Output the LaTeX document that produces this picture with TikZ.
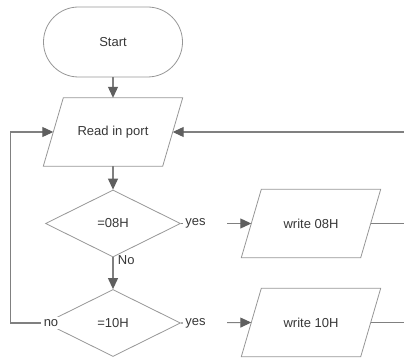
\documentclass[tikz,border=0pt]{standalone}
\usepackage{fontspec}
\setmainfont{Liberation Sans}
\usepackage{tikz}
\usetikzlibrary{shapes.geometric,arrows.meta}
\definecolor{linegray}{RGB}{128,128,128}
\definecolor{boxgray}{RGB}{150,150,150}
\definecolor{textgray}{RGB}{55,55,55}

\begin{document}
\begin{tikzpicture}[x=1pt, y=-1pt,
    every node/.style={text=textgray, font=\fontsize{13}{15}\selectfont},
    border/.style={draw=boxgray, line width=0.8pt},
    termbox/.style={border, rounded corners=35pt,
        minimum width=139pt, minimum height=70pt, inner sep=0pt},
    iobox/.style={minimum width=119pt, minimum height=68pt, inner sep=0pt,
        append after command={\pgfextra{\draw[border]
            ([xshift=10pt]\tikzlastnode.north west) -- ([xshift=10pt]\tikzlastnode.north east)
            -- ([xshift=-10pt]\tikzlastnode.south east) -- ([xshift=-10pt]\tikzlastnode.south west)
            -- cycle;}}},
    testbox/.style={border, diamond,
        minimum width=135pt, minimum height=67pt, inner sep=0pt},
    wire/.style={draw=linegray, line width=1.1pt},
    flow/.style={wire, -{Triangle[length=11pt, width=10pt, color=textgray!80]}},
    branchlbl/.style={fill=white, inner sep=0pt}
]
    \useasboundingbox (0,0) rectangle (404,358);

    % Start box
    \node[termbox] (start) at (113,42) {Start};

    % Read box
    \node[iobox] (read) at (113,132) {Read in port};

    % Test boxes
    \node[testbox] (test08) at (113,223.5) {=08H};
    \node[testbox] (test10) at (113,323) {=10H};

    % Write boxes
    \node[iobox] (write08) at (311,223.5) {write 08H};
    \node[iobox] (write10) at (311,322.5) {write 10H};

    % Free ends on the right
    \coordinate (backin) at (404,132);
    \coordinate (out08) at (404,223.5);
    \coordinate (out10) at (404,322.5);

    % Arrows
    \draw[flow] (start.south) -- (read.north);
    \draw[flow] (read.south) -- (test08.north);
    \draw[flow] (test08.south) -- node[pos=0.1, anchor=west, xshift=1pt] {No} (test10.north);
    \draw[flow] (test08.east) -- node[branchlbl, pos=0, anchor=west, xshift=2pt,
        text width=40pt, inner xsep=2pt, align=left] {yes} (write08.west);
    \draw[flow] (test10.east) -- node[branchlbl, pos=0, anchor=west, xshift=2pt,
        text width=40pt, inner xsep=2pt, align=left] {yes} (write10.west);
    \draw[flow] (test10.west) -- ++(-35,0) |- (read.west);
    \node[branchlbl, inner xsep=3pt, inner ysep=2pt] (nolbl) at (51,323) {no};
    \draw[flow] (backin) -- (read.east);
    \draw[wire] (write08.east) -- (out08);
    \draw[wire] (write10.east) -- (out10);
\end{tikzpicture}
\end{document}
